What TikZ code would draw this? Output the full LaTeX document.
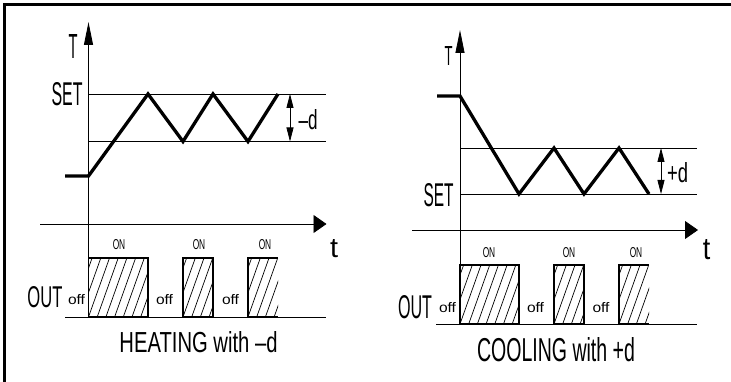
\documentclass[tikz,border=0pt]{standalone}
\usepackage{fontspec}
\setmainfont{Liberation Sans}
\usepackage{graphicx}
\usetikzlibrary{arrows.meta}
\newcommand{\fitbox}[3]{\resizebox{#1pt}{#2pt}{#3}}
\newcommand{\hatchbox}[4]{%
  \begin{scope}
    \clip (#1,#2) rectangle (#3,#4);
    \foreach \k in {-3,...,8} {\draw[hatch] ({#1+\k*8.7},#4) -- ++(21,-59);}
  \end{scope}}
\begin{document}
\begin{tikzpicture}[x=1pt,y=-1pt,
  thinline/.style={line width=0.8pt},
  heavy/.style={line width=3.3pt, line join=miter},
  boxedge/.style={line width=1.3pt},
  hatch/.style={line width=0.7pt},
  lbl/.style={inner sep=0pt, anchor=center},
  vaxis/.style={thinline, -{Triangle[length=23pt,width=9pt]}},
  haxis/.style={thinline, -{Triangle[length=13pt,width=18pt]}},
  dimarrow/.style={thinline, {Triangle[length=14pt,width=7pt]}-{Triangle[length=14pt,width=7pt]}},
]
\useasboundingbox (0,0) rectangle (731,382);
\fill[white] (0,0) rectangle (731,382);
% frame
\draw[line width=2.8pt] (4.2,390) -- (4.2,4.7) -- (740,4.7);

% ================= LEFT: HEATING =================
\coordinate (LTb) at (88.5,317);
\coordinate (LTt) at (88.5,22);
\coordinate (Lta) at (40,224);
\coordinate (Ltb) at (326.5,224);
\coordinate (LdA) at (290,94);
\coordinate (LdB) at (290,141.5);
\hatchbox{88.5}{258}{148}{317}
\hatchbox{183}{258}{213}{317}
\hatchbox{248}{258}{278}{317}
\draw[thinline] (65,317) -- (326,317);
\draw[vaxis] (LTb) -- (LTt);
\draw[haxis] (Lta) -- (Ltb);
\draw[thinline] (88.5,94) -- (326,94);
\draw[thinline] (88.5,141.5) -- (326,141.5);
\draw[heavy] (65,176) -- (88.5,176) -- (148,94) -- (183,141.5) -- (213,94) -- (248,141.5) -- (278,94);
\draw[dimarrow] (LdA) -- (LdB);
\draw[boxedge] (88.5,317) -- (88.5,258) -- (148,258) -- (148,317) -- cycle;
\draw[boxedge] (183,317) -- (183,258) -- (213,258) -- (213,317) -- cycle;
\draw[boxedge] (278,317) -- (248,317) -- (248,258) -- (278,258);

\node[lbl] (LT) at (73,46.5) {\fitbox{9}{24}{T}};
\node[lbl] (LSET) at (67,94.5) {\fitbox{31}{23}{SET}};
\node[lbl] (Ld) at (308,120) {\fitbox{19}{20}{--d}};
\node[lbl] (Lt) at (334,249) {\fitbox{8}{18}{t}};
\node[lbl] (LON1) at (119,245) {\fitbox{12.5}{10}{ON}};
\node[lbl] (LON2) at (199,245) {\fitbox{12.5}{10}{ON}};
\node[lbl] (LON3) at (265,245) {\fitbox{12.5}{10}{ON}};
\node[lbl] (Loff1) at (76.5,300) {\fitbox{17}{10}{off}};
\node[lbl] (Loff2) at (164.5,300) {\fitbox{17}{10}{off}};
\node[lbl] (Loff3) at (230.5,300) {\fitbox{17}{10}{off}};
\node[lbl] (LOUT) at (45,297.5) {\fitbox{35}{21}{OUT}};
\node[lbl] (Ltitle) at (198.5,342.5) {\fitbox{158}{21}{HEATING with --d}};

% ================= RIGHT: COOLING =================
\coordinate (RTb) at (460,324);
\coordinate (RTt) at (460,30);
\coordinate (Rta) at (412,230);
\coordinate (Rtb) at (698,230);
\coordinate (RdA) at (661,148);
\coordinate (RdB) at (661,194);
\hatchbox{460}{265}{519}{324}
\hatchbox{554}{265}{584}{324}
\hatchbox{619}{265}{649}{324}
\draw[thinline] (436,324) -- (697,324);
\draw[vaxis] (RTb) -- (RTt);
\draw[haxis] (Rta) -- (Rtb);
\draw[thinline] (460,148) -- (697,148);
\draw[thinline] (460,194) -- (697,194);
\draw[heavy] (437,96) -- (460,96) -- (519,194) -- (554,148) -- (584,194) -- (619,148) -- (649,194);
\draw[dimarrow] (RdA) -- (RdB);
\draw[boxedge] (460,324) -- (460,265) -- (519,265) -- (519,324) -- cycle;
\draw[boxedge] (554,324) -- (554,265) -- (584,265) -- (584,324) -- cycle;
\draw[boxedge] (649,324) -- (619,324) -- (619,265) -- (649,265);

\node[lbl] (RT) at (448.5,56.5) {\fitbox{8}{19}{T}};
\node[lbl] (RSET) at (438.5,195) {\fitbox{30}{23}{SET}};
\node[lbl] (Rd) at (677.5,173) {\fitbox{21}{20}{+d}};
\node[lbl] (Rt) at (706.5,250) {\fitbox{7.5}{20}{t}};
\node[lbl] (RON1) at (489,253) {\fitbox{12.5}{10}{ON}};
\node[lbl] (RON2) at (569,253) {\fitbox{12.5}{10}{ON}};
\node[lbl] (RON3) at (636,253) {\fitbox{12.5}{10}{ON}};
\node[lbl] (Roff1) at (447.5,308) {\fitbox{17}{10}{off}};
\node[lbl] (Roff2) at (535.5,308) {\fitbox{17}{10}{off}};
\node[lbl] (Roff3) at (601,308) {\fitbox{17}{10}{off}};
\node[lbl] (ROUT) at (415,307) {\fitbox{34}{23}{OUT}};
\node[lbl] (Rtitle) at (556,349.5) {\fitbox{158}{24}{COOLING with +d}};
\end{tikzpicture}
\end{document}
